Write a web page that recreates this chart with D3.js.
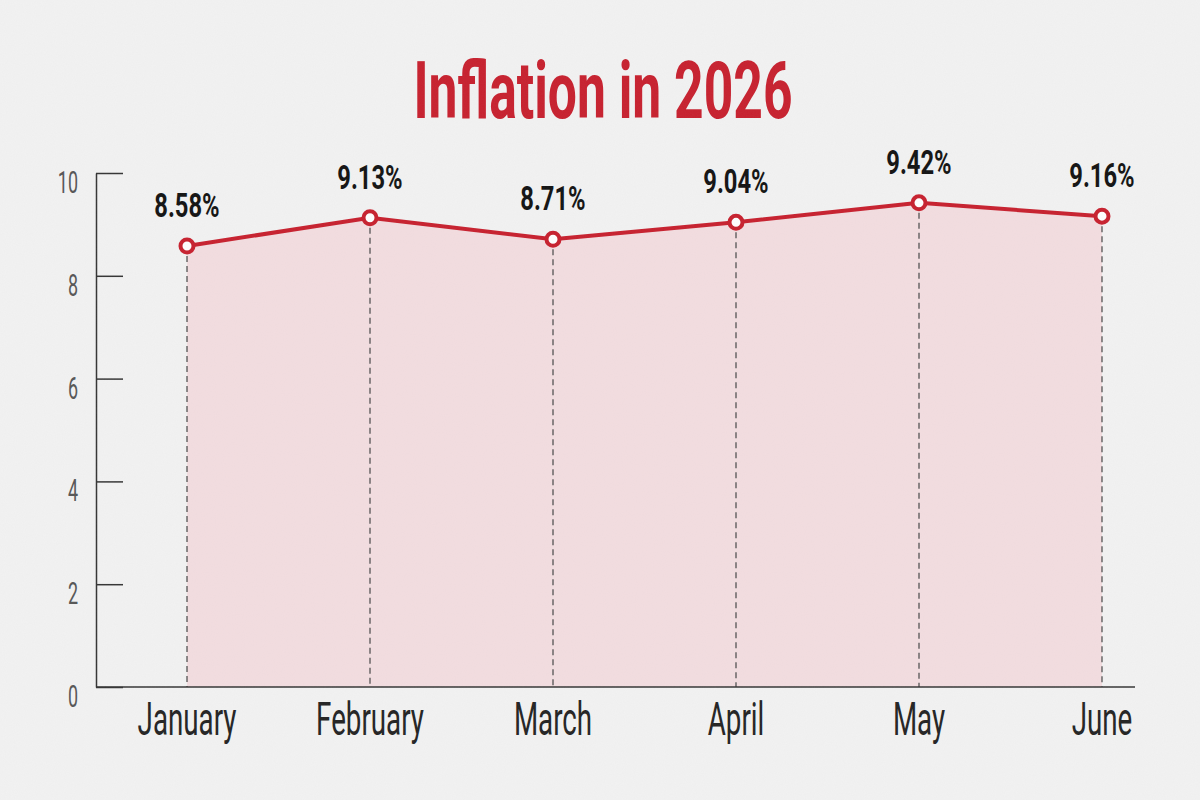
<!DOCTYPE html>
<html>
<head>
<meta charset="utf-8">
<script src="https://cdn.jsdelivr.net/npm/d3@7"></script>
<style>
  html, body { margin: 0; padding: 0; background: #f1f1f1; }
  svg { display: block; }
  text { font-family: Roboto, "Liberation Sans", sans-serif; }
</style>
</head>
<body>
<svg id="chart" width="1200" height="800"></svg>
<script>
const months = ["January", "February", "March", "April", "May", "June"];
const inflation = [8.58, 9.13, 8.71, 9.04, 9.42, 9.16];
const yTicks = [0, 2, 4, 6, 8, 10];
const title = "Inflation in 2026";

const width = 1200;
const height = 800;
const red = "#c71f2d";

const svg = d3.select("#chart");

// grainy paper background
const defs = svg.append("defs");
const noise = defs.append("filter").attr("id", "grain")
  .attr("x", 0).attr("y", 0).attr("width", "100%").attr("height", "100%");
noise.append("feTurbulence")
  .attr("type", "fractalNoise")
  .attr("baseFrequency", 0.9)
  .attr("numOctaves", 2)
  .attr("stitchTiles", "stitch");
noise.append("feColorMatrix")
  .attr("type", "matrix")
  .attr("values", "0 0 0 0 0.5  0 0 0 0 0.5  0 0 0 0 0.5  0 0 0 0.07 0");

svg.append("rect").attr("width", width).attr("height", height).attr("fill", "#f2f2f2");

const x = d3.scalePoint().domain(months).range([187, 1102]);
const y = d3.scaleLinear().domain([0, 10]).range([687, 173]);

const data = months.map((m, i) => ({ month: m, value: inflation[i] }));

// condensed-looking text: squeeze glyphs horizontally
function squeezed(sel, sx) {
  return sel.attr("transform", function () {
    const d = d3.select(this);
    return `translate(${d.attr("data-x")},${d.attr("data-y")}) scale(${sx},1)`;
  });
}

// title
svg.append("text")
  .attr("data-x", 603).attr("data-y", 118)
  .attr("text-anchor", "middle")
  .attr("font-size", 80)
  .attr("font-weight", 700)
  .attr("fill", red)
  .text(title)
  .call(squeezed, 0.645);

// area under line
const area = d3.area()
  .x(d => x(d.month))
  .y0(y(0))
  .y1(d => y(d.value));

svg.append("path")
  .datum(data)
  .attr("d", area)
  .attr("fill", "#f3dde0");

// dashed drop lines
svg.append("g").selectAll("line")
  .data(data)
  .join("line")
  .attr("x1", d => x(d.month))
  .attr("x2", d => x(d.month))
  .attr("y1", d => y(d.value))
  .attr("y2", y(0))
  .attr("stroke", "#444")
  .attr("stroke-width", 1.2)
  .attr("stroke-dasharray", "6,4");

// axes
const yAxis = d3.axisRight(y)
  .tickValues(yTicks)
  .tickSize(27)
  .tickSizeOuter(0)
  .tickFormat("");

const yG = svg.append("g")
  .attr("transform", "translate(96,0)")
  .call(yAxis);
yG.selectAll("path, line").attr("stroke", "#333").attr("stroke-width", 1.5);

svg.append("line")
  .attr("x1", 96).attr("x2", 1135)
  .attr("y1", y(0)).attr("y2", y(0))
  .attr("stroke", "#333").attr("stroke-width", 1.5);

// y tick labels
svg.append("g").selectAll("text")
  .data(yTicks)
  .join("text")
  .attr("data-x", 78)
  .attr("data-y", d => y(d) + 20)
  .attr("text-anchor", "end")
  .attr("font-size", 32)
  .attr("fill", "#555")
  .text(d => d)
  .call(squeezed, 0.56);

// month labels
svg.append("g").selectAll("text")
  .data(months)
  .join("text")
  .attr("data-x", d => x(d))
  .attr("data-y", 735)
  .attr("text-anchor", "middle")
  .attr("font-size", 47)
  .attr("fill", "#222")
  .text(d => d)
  .call(squeezed, 0.59);

// line
const line = d3.line()
  .x(d => x(d.month))
  .y(d => y(d.value));

svg.append("path")
  .datum(data)
  .attr("d", line)
  .attr("fill", "none")
  .attr("stroke", red)
  .attr("stroke-width", 4);

// markers
svg.append("g").selectAll("circle")
  .data(data)
  .join("circle")
  .attr("cx", d => x(d.month))
  .attr("cy", d => y(d.value))
  .attr("r", 6.5)
  .attr("fill", "#fff")
  .attr("stroke", red)
  .attr("stroke-width", 4);

// value labels
svg.append("g").selectAll("text")
  .data(data)
  .join("text")
  .attr("data-x", d => x(d.month))
  .attr("data-y", d => y(d.value) - 29)
  .attr("text-anchor", "middle")
  .attr("font-size", 33)
  .attr("font-weight", 700)
  .attr("fill", "#111")
  .text(d => d.value.toFixed(2) + "%")
  .call(squeezed, 0.72);

// grain on top
svg.append("rect").attr("width", width).attr("height", height)
  .attr("filter", "url(#grain)").attr("pointer-events", "none");
</script>
</body>
</html>
